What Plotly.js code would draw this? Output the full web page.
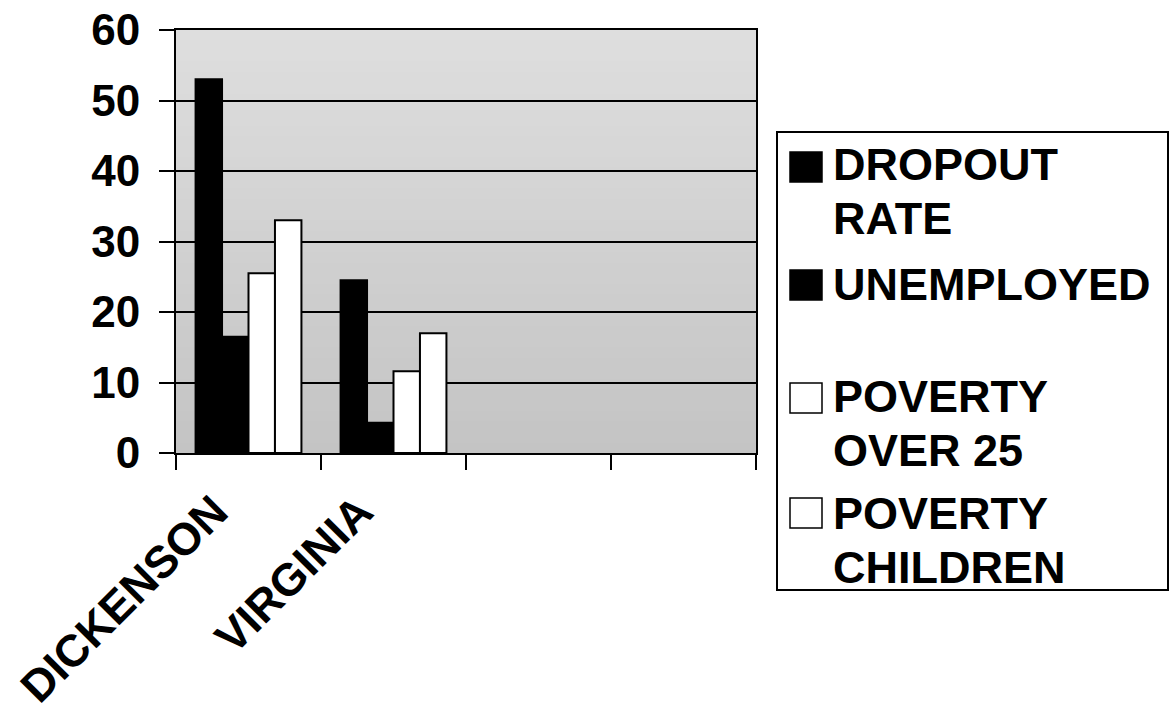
<!DOCTYPE html>
<html>
<head>
<meta charset="utf-8">
<script src="https://cdn.plot.ly/plotly-3.0.1.min.js"></script>
<style>html,body{margin:0;padding:0;background:#fff;}#chart{width:1171px;height:713px;}</style>
</head>
<body>
<div id="chart"></div>
<script>
// ---- data ----
var categories = ["DICKENSON", "VIRGINIA", " ", "  "];
var seriesNames = ["DROPOUT<br>RATE", "UNEMPLOYED", "POVERTY<br>OVER 25", "POVERTY<br>CHILDREN"];
var dropoutRate = [53, 24.5, null, null];
var unemployed = [16.5, 4.3, null, null];
var povertyOver25 = [25.5, 11.6, null, null];
var povertyChildren = [33, 17, null, null];
var seriesColors = ["#000000", "#000000", "#ffffff", "#ffffff"];
var yTicks = [0, 10, 20, 30, 40, 50, 60];

var seriesValues = [dropoutRate, unemployed, povertyOver25, povertyChildren];

// ---- layout geometry (pixels) ----
var W = 1171, H = 713;
var L = 176, R = 756, T = 30, B = 453;
function px(x) { return (x - L) / (R - L); }
function py(y) { return (B - y) / (B - T); }

var FONT = "Liberation Sans, Arial, sans-serif";

var traces = seriesNames.map(function (name, i) {
  return {
    type: "bar",
    name: name.replace("<br>", " "),
    x: categories,
    y: seriesValues[i],
    marker: { color: seriesColors[i], line: { color: "#000", width: 2 } },
    showlegend: false,
    hoverinfo: "x+y+name"
  };
});

var shapes = [];
// stippled grey plot background: lighter toward the top
var NB = 40;
for (var b = 0; b < NB; b++) {
  var t = b / (NB - 1);
  var g = Math.round(196 + (222 - 196) * t);
  shapes.push({
    type: "rect", xref: "x domain", yref: "y domain", layer: "below",
    x0: 0, x1: 1, y0: b / NB, y1: (b + 1) / NB + 0.002,
    line: { width: 0 }, fillcolor: "rgb(" + g + "," + g + "," + g + ")"
  });
}

// custom legend (big square symbols like the original)
var legendTextTop = [148, 268, 380, 497];
var legendSymTop = [152, 270, 383, 498];
var LINE_STEP = 54;
shapes.push({
  type: "rect", xref: "paper", yref: "paper",
  x0: px(777), x1: px(1168), y0: py(590), y1: py(132),
  line: { color: "#000", width: 2 }, fillcolor: "rgba(0,0,0,0)"
});
var annotations = [];
seriesNames.forEach(function (name, i) {
  shapes.push({
    type: "rect", xref: "paper", yref: "paper",
    x0: px(790), x1: px(822), y0: py(legendSymTop[i] + 30), y1: py(legendSymTop[i]),
    line: { color: "#000", width: 1.5 }, fillcolor: seriesColors[i]
  });
  name.split("<br>").forEach(function (line, k) {
    annotations.push({
      xref: "paper", yref: "paper",
      x: px(831), y: py(legendTextTop[i] + k * LINE_STEP - 11),
      xanchor: "left", yanchor: "top", align: "left",
      showarrow: false, text: line,
      font: { family: FONT, size: 45, color: "#000", weight: "bold" }
    });
  });
});

var layout = {
  width: W, height: H,
  margin: { l: L, r: W - R, t: T, b: H - B, pad: 0 },
  paper_bgcolor: "#ffffff",
  plot_bgcolor: "#d2d2d2",
  bargap: 0.27,
  bargroupgap: 0,
  barmode: "group",
  showlegend: false,
  font: { family: FONT, color: "#000" },
  xaxis: {
    type: "category",
    categoryorder: "array",
    categoryarray: categories,
    range: [-0.5, 3.5],
    tickson: "boundaries",
    ticks: "outside", ticklen: 15, tickwidth: 2, tickcolor: "#000",
    showline: true, linecolor: "#000", linewidth: 2, mirror: true,
    showgrid: false,
    tickangle: -45,
    ticklabelstandoff: 12,
    ticklabelshift: -34,
    tickfont: { family: FONT, size: 45, color: "#000", weight: "bold" },
    fixedrange: true
  },
  yaxis: {
    range: [0, 60],
    tickvals: yTicks,
    ticktext: yTicks.map(String),
    ticks: "outside", ticklen: 15, tickwidth: 2, tickcolor: "#000",
    showline: true, linecolor: "#000", linewidth: 2, mirror: true,
    showgrid: true, gridcolor: "#000", gridwidth: 2,
    zeroline: false,
    ticklabelstandoff: 10,
    tickfont: { family: FONT, size: 44, color: "#000", weight: "bold" },
    fixedrange: true
  },
  shapes: shapes,
  annotations: annotations
};

Plotly.newPlot("chart", traces, layout, { displayModeBar: false, staticPlot: true });
</script>
</body>
</html>
